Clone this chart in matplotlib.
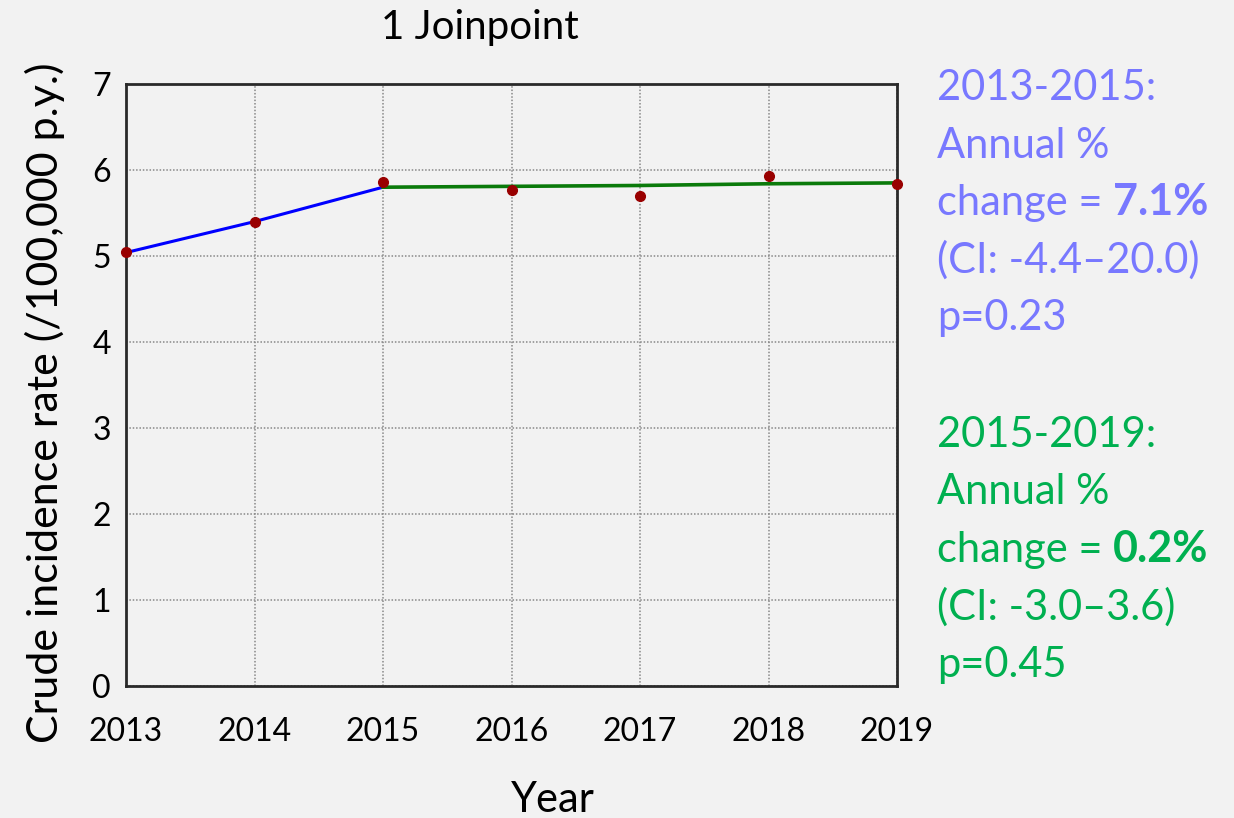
import matplotlib
matplotlib.use("Agg")
import matplotlib.pyplot as plt

# observed crude incidence rates per year
years = [2013, 2014, 2015, 2016, 2017, 2018, 2019]
observed = [5.05, 5.40, 5.86, 5.77, 5.70, 5.93, 5.84]

# joinpoint segments (modelled values)
seg1_years = [2013, 2014, 2015]
seg1_fit = [5.04, 5.40, 5.80]
seg2_years = [2015, 2016, 2017, 2018, 2019]
seg2_fit = [5.80, 5.81, 5.82, 5.84, 5.85]

seg1_lines = ["2013-2015:", "Annual %", ("change = ", "7.1%"), "(CI: -4.4\u201320.0)", "p=0.23"]
seg2_lines = ["2015-2019:", "Annual %", ("change = ", "0.2%"), "(CI: -3.0\u20133.6)", "p=0.45"]

BG = "#f2f2f2"
BLUE_TXT = "#7878ff"
GREEN_TXT = "#00b050"
W, H = 1234, 818

plt.rcParams["font.family"] = ["Lato", "DejaVu Sans"]

fig = plt.figure(figsize=(W / 100, H / 100), dpi=100, facecolor=BG)
ax = fig.add_axes([126 / W, 1 - 686 / H, (897 - 126) / W, (686 - 84) / H])
ax.set_facecolor(BG)

ax.plot(seg1_years, seg1_fit, color="#0000ff", lw=2.2, zorder=3)
ax.plot(seg2_years, seg2_fit, color="#0a7a0a", lw=2.6, zorder=3)
ax.plot(years, observed, "o", color="#990000", ms=7, zorder=4, clip_on=False)

ax.set_xlim(2013, 2019)
ax.set_ylim(0, 7)
ax.set_xticks(years)
ax.set_yticks(range(0, 8))
ax.grid(True, color="#888888", linestyle=(0, (1, 1.2)), lw=1.1)
ax.tick_params(length=0, labelsize=23, colors="black")
ax.tick_params(axis="x", pad=22)
ax.tick_params(axis="y", pad=11)
for s in ax.spines.values():
    s.set_color("#2a2a2a")
    s.set_linewidth(2)

fig.text(480 / W, 1 - 28 / H, "1 Joinpoint", ha="center", va="center", fontsize=29)
fig.text(553 / W, 1 - 800 / H, "Year", ha="center", va="center", fontsize=30)
fig.text(45 / W, 1 - 403 / H, "Crude incidence rate (/100,000 p.y.)",
         rotation=90, ha="center", va="center", fontsize=31)


def draw_block(lines, color, first_baseline):
    fig.canvas.draw()
    renderer = fig.canvas.get_renderer()
    for i, line in enumerate(lines):
        y = 1 - (first_baseline + i * 57.5) / H
        if isinstance(line, tuple):
            t = fig.text(937 / W, y, line[0], color=color, fontsize=30, va="baseline")
            x1 = t.get_window_extent(renderer).x1
            fig.text(x1 / W, y, line[1], color=color, fontsize=31,
                     fontweight="bold", va="baseline")
        else:
            fig.text(937 / W, y, line, color=color, fontsize=30, va="baseline")


draw_block(seg1_lines, BLUE_TXT, 100)
draw_block(seg2_lines, GREEN_TXT, 447)

fig.savefig("out.png", dpi=100, facecolor=BG)
